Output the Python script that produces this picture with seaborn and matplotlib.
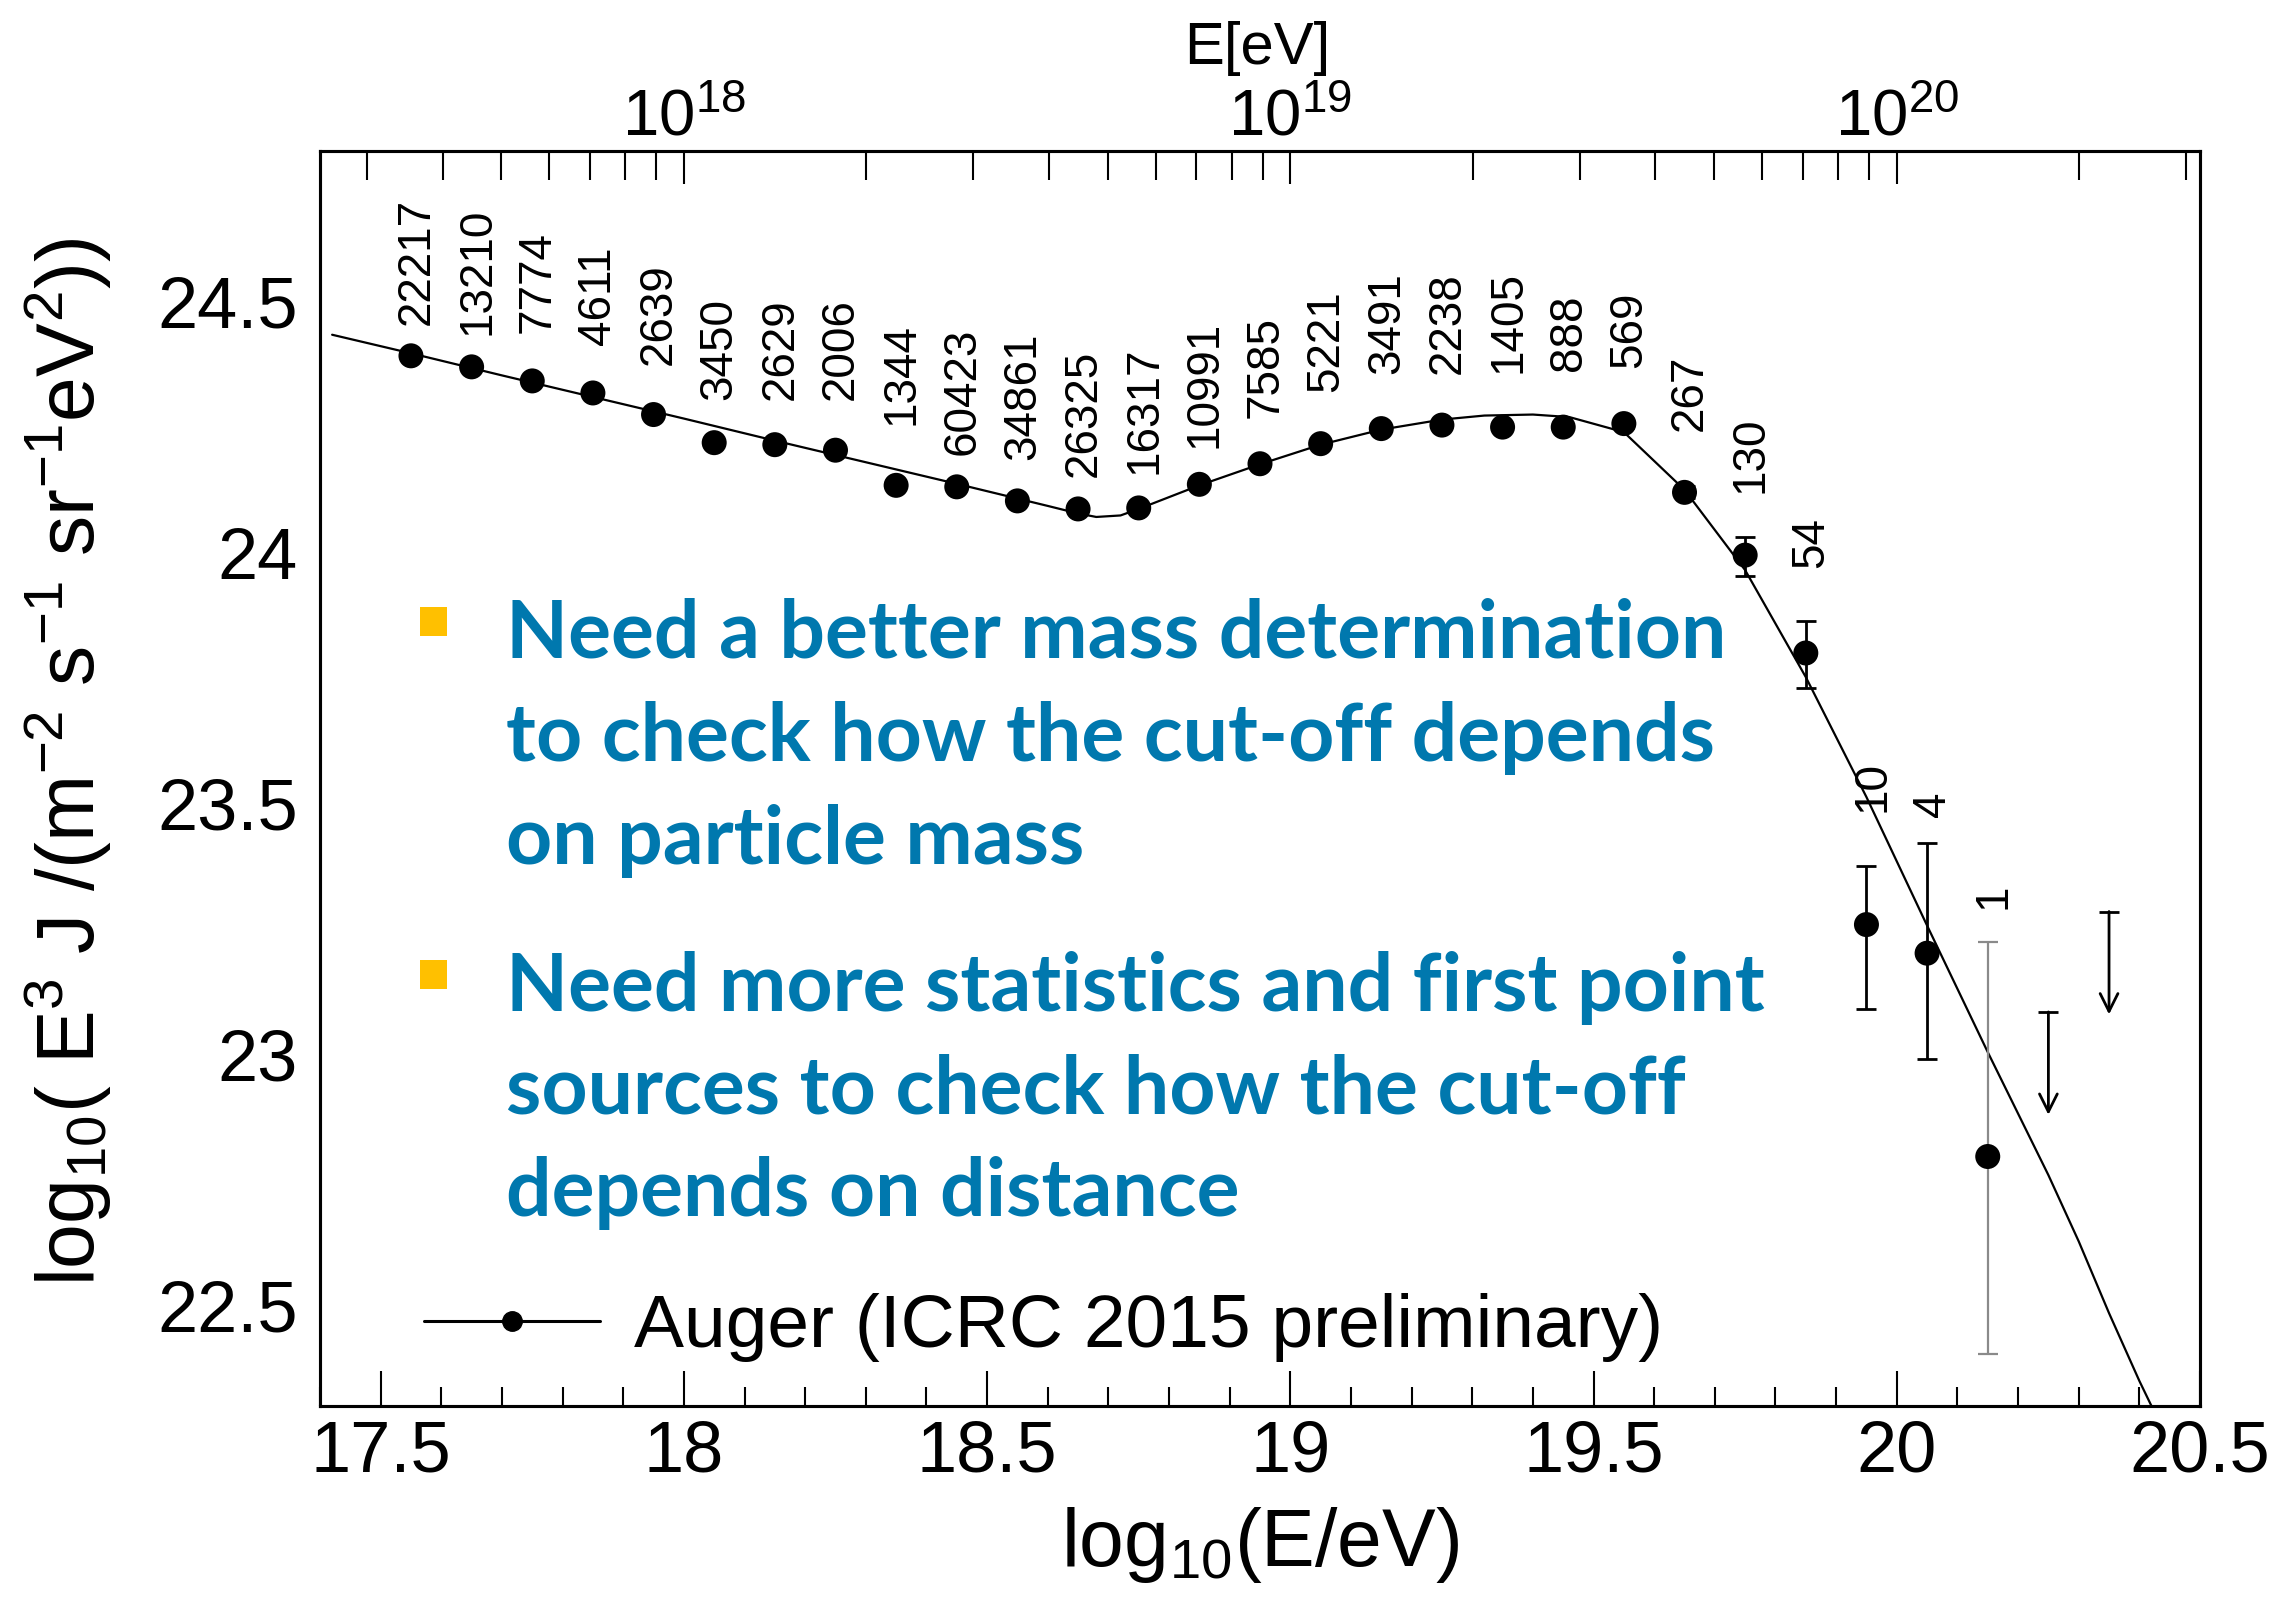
import numpy as np
import matplotlib
matplotlib.use("Agg")
import matplotlib.pyplot as plt
import seaborn as sns
from matplotlib.lines import Line2D
from matplotlib.patches import Rectangle
from matplotlib.ticker import MultipleLocator, FixedLocator, LogLocator, FuncFormatter, NullFormatter

# ---- Auger combined energy spectrum (ICRC 2015, preliminary) ----
log_e = [17.55, 17.65, 17.75, 17.85, 17.95, 18.05, 18.15, 18.25, 18.35, 18.45,
         18.55, 18.65, 18.75, 18.85, 18.95, 19.05, 19.15, 19.25, 19.35, 19.45,
         19.55, 19.65, 19.75, 19.85, 19.95, 20.05, 20.15]
log_flux = [24.392, 24.370, 24.342, 24.318, 24.275, 24.219, 24.215, 24.204, 24.134, 24.131,
            24.103, 24.087, 24.089, 24.136, 24.177, 24.217, 24.247, 24.254, 24.250, 24.250,
            24.257, 24.120, 23.995, 23.800, 23.259, 23.202, 22.797]
err_up = [0.004, 0.004, 0.004, 0.004, 0.004, 0.004, 0.004, 0.004, 0.004, 0.004,
          0.004, 0.004, 0.004, 0.004, 0.004, 0.004, 0.004, 0.004, 0.005, 0.006,
          0.008, 0.012, 0.037, 0.064, 0.117, 0.219, 0.427]
err_down = [0.004, 0.004, 0.004, 0.004, 0.004, 0.004, 0.004, 0.004, 0.004, 0.004,
            0.004, 0.004, 0.004, 0.004, 0.004, 0.004, 0.004, 0.004, 0.005, 0.006,
            0.008, 0.012, 0.041, 0.070, 0.168, 0.211, 0.394]
n_events = ["22217", "13210", "7774", "4611", "2639", "3450", "2629", "2006", "1344", "60423",
            "34861", "26325", "16317", "10991", "7585", "5221", "3491", "2238", "1405", "888",
            "569", "267", "130", "54", "10", "4", "1"]

# upper limits (no events) in the two highest bins
ul_log_e = [20.25, 20.35]
ul_log_flux = [23.085, 23.285]

# fitted spectral shape (ankle + suppression)
fit_log_e = [17.42, 17.55, 17.70, 17.85, 18.00, 18.15, 18.30, 18.45, 18.60, 18.65,
             18.68, 18.72, 18.75, 18.85, 18.95, 19.05, 19.15, 19.25, 19.32, 19.40,
             19.46, 19.55, 19.65, 19.75, 19.85, 19.95, 20.05, 20.15, 20.25, 20.30,
             20.35, 20.40, 20.42]
fit_log_flux = [24.434, 24.397, 24.353, 24.310, 24.267, 24.223, 24.180, 24.137, 24.093, 24.078,
                24.071, 24.074, 24.087, 24.134, 24.176, 24.215, 24.245, 24.265, 24.273, 24.275,
                24.270, 24.240, 24.125, 23.965, 23.752, 23.513, 23.257, 23.005, 22.760, 22.628,
                22.485, 22.350, 22.300]

# vertical gap between the top of each point and its event-count label
label_lift = [0.058, 0.060, 0.092, 0.092, 0.095, 0.081, 0.085, 0.096, 0.116, 0.059,
              0.077, 0.059, 0.064, 0.069, 0.088, 0.098, 0.105, 0.098, 0.102, 0.105,
              0.103, 0.110, 0.087, 0.105, 0.108, 0.052, 0.066]

bullets = [
    ["Need a better mass determination",
     "to check how the cut-off depends",
     "on particle mass"],
    ["Need more statistics and first point",
     "sources to check how the cut-off",
     "depends on distance"],
]

# ---- style ----
sns.set_theme(style="white")
plt.rcParams["font.family"] = ["Liberation Sans", "DejaVu Sans"]
plt.rcParams["mathtext.fontset"] = "custom"
plt.rcParams["mathtext.rm"] = "Liberation Sans"
plt.rcParams["mathtext.it"] = "Liberation Sans:italic"
plt.rcParams["mathtext.bf"] = "Liberation Sans:bold"
for key in ("text.color", "axes.labelcolor", "xtick.color", "ytick.color", "axes.edgecolor"):
    plt.rcParams[key] = "black"

W, H = 2275, 1612
fig = plt.figure(figsize=(W / 100, H / 100), dpi=100)
fig.patch.set_facecolor("white")

x0, x1, y_top, y_bot = 320, 2200, 151, 1406
ax = fig.add_axes([x0 / W, 1 - y_bot / H, (x1 - x0) / W, (y_bot - y_top) / H])
ax.set_facecolor("white")

# fitted curve
sns.lineplot(x=fit_log_e, y=fit_log_flux, ax=ax, color="black", linewidth=1.6,
             sort=False, estimator=None, zorder=2)

# data points with error bars
n_main = len(log_e) - 1
ax.errorbar(log_e[:n_main], log_flux[:n_main],
            yerr=[err_down[:n_main], err_up[:n_main]], fmt="none",
            ecolor="black", elinewidth=2.0, capsize=7, capthick=2.0, zorder=3)
ax.errorbar(log_e[n_main:], log_flux[n_main:],
            yerr=[err_down[n_main:], err_up[n_main:]], fmt="none",
            ecolor="#8a8a8a", elinewidth=1.6, capsize=7, capthick=1.6, zorder=3)
sns.scatterplot(x=log_e, y=log_flux, ax=ax, color="black", s=18 ** 2,
                edgecolor="none", linewidth=0, zorder=4, legend=False)

# upper limits: capped bar with a downward arrow
for xe, ye in zip(ul_log_e, ul_log_flux):
    ax.annotate("", xy=(xe, ye - 0.205), xytext=(xe, ye),
                arrowprops=dict(arrowstyle="->", color="black", lw=2.0,
                                mutation_scale=32, shrinkA=0, shrinkB=0))
ax.plot(ul_log_e, ul_log_flux, linestyle="none", marker="_", markersize=14,
        markeredgewidth=2.0, color="black")

# event counts above each point
for xe, ye, up, lift, txt in zip(log_e, log_flux, err_up, label_lift, n_events):
    ax.annotate(txt, xy=(xe, ye + up + lift), xytext=(4, 0), textcoords="offset points",
                rotation=90, ha="center", va="bottom", fontsize=33, color="black")

# axes ranges and ticks
ax.set_xlim(17.4, 20.5)
ax.set_ylim(22.3, 24.8)
fmt = FuncFormatter(lambda v, p: f"{v:g}")
ax.xaxis.set_major_locator(MultipleLocator(0.5))
ax.xaxis.set_minor_locator(MultipleLocator(0.1))
ax.yaxis.set_major_locator(MultipleLocator(0.5))
ax.yaxis.set_minor_locator(MultipleLocator(0.1))
ax.xaxis.set_major_formatter(fmt)
ax.yaxis.set_major_formatter(fmt)
ax.tick_params(axis="both", which="both", direction="in", top=False, right=False,
               colors="black", labelsize=52)
ax.tick_params(axis="y", which="major", length=39, width=1.5, pad=16)
ax.tick_params(axis="y", which="minor", length=20, width=1.5)
ax.tick_params(axis="x", which="major", length=25, width=1.5, pad=10)
ax.tick_params(axis="x", which="minor", length=14, width=1.5)
for sp in ax.spines.values():
    sp.set_color("black")
    sp.set_linewidth(2.2)
ax.set_xlabel("")
ax.set_ylabel("")

# energy axis on top
ax2 = ax.twiny()
ax2.set_xscale("log")
ax2.set_xlim(10 ** 17.4, 10 ** 20.5)
ax2.xaxis.set_major_locator(FixedLocator([1e18, 1e19, 1e20]))
ax2.xaxis.set_minor_locator(LogLocator(base=10, subs=np.arange(2, 10)))
ax2.xaxis.set_minor_formatter(NullFormatter())
ax2.tick_params(axis="x", which="both", direction="in", top=True, bottom=False,
                labeltop=True, labelbottom=False, labelsize=47, pad=2, colors="black")
ax2.tick_params(axis="x", which="major", length=24, width=1.5)
ax2.tick_params(axis="x", which="minor", length=21, width=1.5)
ax2.tick_params(axis="y", left=False, right=False, labelleft=False, labelright=False)
for sp in ax2.spines.values():
    sp.set_color("black")
    sp.set_linewidth(2.2)

# axis titles
fig.text(68 / W, 1 - 762 / H,
         r"log$_{10}$( E$^{3}$ J /(m$^{-2}$ s$^{-1}$ sr$^{-1}$eV$^{2}$))",
         rotation=90, ha="center", va="center", fontsize=58, color="black")
fig.text(1260 / W, 1 - 1545 / H, r"log$_{10}$(E/eV)", ha="center", va="center",
         fontsize=58, color="black")
fig.text(1257 / W, 1 - 48 / H, "E[eV]", ha="center", va="center", fontsize=43,
         color="black")

# legend
handle = Line2D([], [], color="black", lw=2.2, marker="o", markersize=14)
leg = ax.legend([handle], ["Auger (ICRC 2015 preliminary)"], loc="center left",
                bbox_to_anchor=(424 / W, 1 - 1328 / H), bbox_transform=fig.transFigure,
                frameon=False, fontsize=54, handlelength=2.35, handletextpad=0.45,
                borderpad=0, borderaxespad=0)
for t in leg.get_texts():
    t.set_color("black")

# bullet notes
blue = "#0078AE"
gold = "#FFC000"
baselines = [[658, 761, 864], [1011, 1114, 1216]]
bullet_tops = [607, 960]
for lines, bases, btop in zip(bullets, baselines, bullet_tops):
    fig.add_artist(Rectangle((420 / W, 1 - (btop + 29) / H), 27 / W, 29 / H,
                             transform=fig.transFigure, facecolor=gold,
                             edgecolor="none"))
    for line, base in zip(lines, bases):
        fig.text(506 / W, 1 - base / H, line, ha="left", va="baseline",
                 fontsize=58, fontweight="bold", family=["Lato", "DejaVu Sans"],
                 color=blue)

fig.savefig("out.png", dpi=100)
